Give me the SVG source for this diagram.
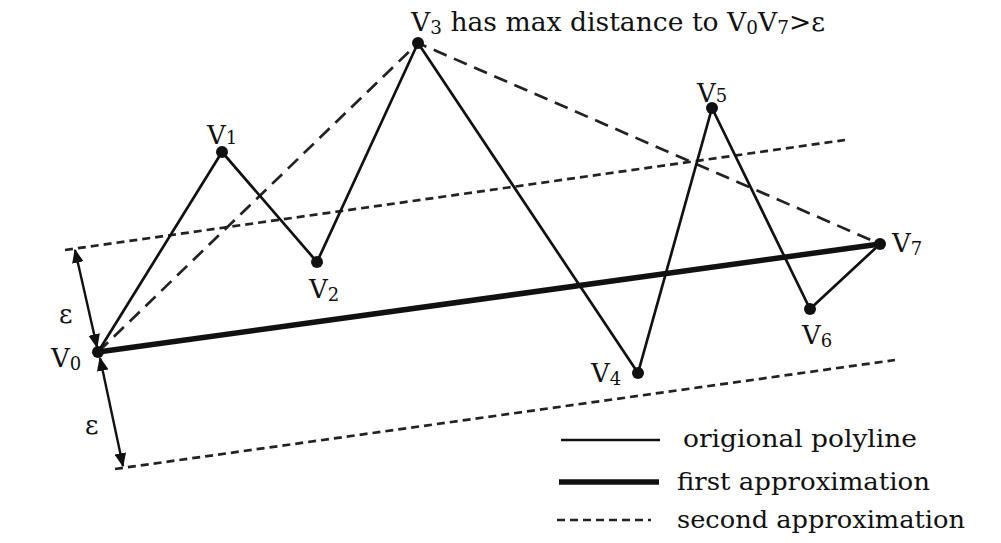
<svg xmlns="http://www.w3.org/2000/svg" width="1001" height="543" viewBox="0 0 1001 543">
<style>
.lbl{font-family:"DejaVu Serif","Liberation Serif",serif;font-size:26px;fill:#111}
.sub{font-size:18px}
.leg{font-family:"DejaVu Serif","Liberation Serif",serif;font-size:24px;fill:#111}
.poly{fill:none;stroke:#111;stroke-width:2.7;stroke-linejoin:round}
.thick{fill:none;stroke:#111;stroke-width:5.5}
.approx{fill:none;stroke:#222;stroke-width:2.7;stroke-dasharray:14 8}
.band{fill:none;stroke:#222;stroke-width:2.7;stroke-dasharray:8 5}
.arr{fill:none;stroke:#111;stroke-width:2.4}
.dot{fill:#111}
</style>
<defs>
<marker id="head" viewBox="0 0 12 10" refX="11" refY="5" markerWidth="14" markerHeight="12" orient="auto-start-reverse" markerUnits="userSpaceOnUse">
<path d="M0,0 L12,5 L0,10 Z" fill="#111"/>
</marker>
</defs>
<rect width="1001" height="543" fill="#fff"/>
<g id="connectors">
<line class="band" x1="65" y1="250" x2="845" y2="140"/>
<line class="band" x1="115" y1="469" x2="895" y2="360"/>
<polyline class="approx" points="98,352 418,43 880,244"/>
<line class="thick" x1="98" y1="352" x2="880" y2="244"/>
<polyline class="poly" points="98,352 222,152 317,262 418,43 638,373 712,108 810,309 880,244"/>
<line class="arr" x1="97" y1="347" x2="75" y2="250" marker-start="url(#head)" marker-end="url(#head)"/>
<line class="arr" x1="100" y1="358" x2="123" y2="466" marker-start="url(#head)" marker-end="url(#head)"/>
</g>
<g id="v0"><circle class="dot" cx="98" cy="352" r="6"/><text class="lbl" x="51" y="367">V<tspan class="sub" dy="3">0</tspan></text></g>
<g id="v1"><circle class="dot" cx="222" cy="152" r="6"/><text class="lbl" x="207" y="144">V<tspan class="sub">1</tspan></text></g>
<g id="v2"><circle class="dot" cx="317" cy="262" r="6"/><text class="lbl" x="309" y="298">V<tspan class="sub" dy="3">2</tspan></text></g>
<g id="v3"><circle class="dot" cx="418" cy="43" r="6"/><text class="lbl" x="411" y="31" textLength="414" lengthAdjust="spacingAndGlyphs">V<tspan class="sub" dy="3">3</tspan><tspan dy="-3"> has max distance to V</tspan><tspan class="sub" dy="3">0</tspan><tspan dy="-3">V</tspan><tspan class="sub" dy="3">7</tspan><tspan dy="-3">&gt;ε</tspan></text></g>
<g id="v4"><circle class="dot" cx="638" cy="373" r="6"/><text class="lbl" x="591" y="382">V<tspan class="sub" dy="3">4</tspan></text></g>
<g id="v5"><circle class="dot" cx="712" cy="108" r="6"/><text class="lbl" x="697" y="102">V<tspan class="sub">5</tspan></text></g>
<g id="v6"><circle class="dot" cx="810" cy="309" r="6"/><text class="lbl" x="802" y="344">V<tspan class="sub" dy="3">6</tspan></text></g>
<g id="v7"><circle class="dot" cx="880" cy="244" r="6"/><text class="lbl" x="892" y="252">V<tspan class="sub" dy="3">7</tspan></text></g>
<g id="eps"><text class="lbl" x="59" y="323">ε</text><text class="lbl" x="85" y="434">ε</text></g>
<g id="legend">
<line class="poly" x1="561" y1="440" x2="660" y2="440"/>
<text class="leg" x="683" y="447" textLength="234" lengthAdjust="spacingAndGlyphs">origional polyline</text>
<line class="thick" x1="559" y1="482" x2="659" y2="482"/>
<text class="leg" x="677" y="490" textLength="253" lengthAdjust="spacingAndGlyphs">first approximation</text>
<line class="band" x1="557" y1="520" x2="651" y2="520" stroke-dasharray="9 5"/>
<text class="leg" x="677" y="528" textLength="288" lengthAdjust="spacingAndGlyphs">second approximation</text>
</g>
</svg>
